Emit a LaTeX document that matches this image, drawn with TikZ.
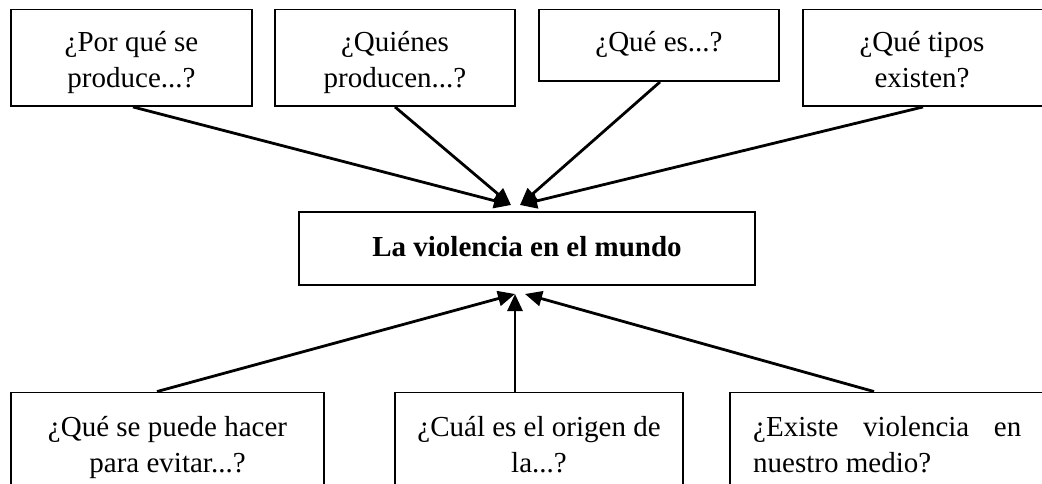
\documentclass[tikz,border=0pt]{standalone}
\usepackage{fontspec}
\setmainfont{Liberation Serif}
\usetikzlibrary{arrows.meta}
\begin{document}
\begin{tikzpicture}[x=1pt,y=-1pt,
  qbox/.style={draw, line width=1.9pt, inner sep=0pt},
  qtext/.style={align=center, inner sep=0pt, font=\fontsize{29}{36}\selectfont},
  link/.style={line width=2.8pt, -{Triangle[length=17pt,width=15pt]}},
]
\useasboundingbox (0,0) rectangle (1042,484);
% top boxes
\node[qbox, minimum width=241pt, minimum height=96.5pt] (b1) at (131.5,57.75) {};
\node[qbox, minimum width=240pt, minimum height=96.5pt] (b2) at (395,57.75) {};
\node[qbox, minimum width=240pt, minimum height=71.5pt] (b3) at (659,45.25) {};
\node[qbox, minimum width=247pt, minimum height=96.5pt] (b4) at (926.5,57.75) {};
\node[qtext, anchor=base] (t1) at (131.5,88) {¿Por qué se\\produce...?};
\node[qtext, anchor=base] (t2) at (395,88) {¿Quiénes\\producen...?};
\node[qtext, anchor=base] (t3) at (659,52) {¿Qué es...?};
\node[qtext, anchor=base] (t4) at (922,88) {¿Qué tipos\\existen?};
% centre
\node[qbox, minimum width=456pt, minimum height=73pt] (c) at (527,248.5) {};
\node[qtext, anchor=base, font=\fontsize{29}{36}\selectfont\bfseries] (tc) at (527,256) {La violencia en el mundo};
% bottom boxes
\node[qbox, minimum width=313pt, minimum height=130pt] (b5) at (167.5,457.5) {};
\node[qbox, minimum width=288pt, minimum height=130pt] (b6) at (539,457.5) {};
\node[qbox, minimum width=320pt, minimum height=130pt] (b7) at (890,457.5) {};
\node[qtext, anchor=base] (t5) at (167.5,472) {¿Qué se puede hacer\\para evitar...?};
\node[qtext, anchor=base] (t6) at (539,472) {¿Cuál es el origen de\\la...?};
\node[qtext, anchor=base west, align=left] (t7) at (753,472) {\makebox[268pt][s]{¿Existe\hfill violencia\hfill en}\\nuestro medio?};
% arrow tips
\coordinate (tl) at (511,205);
\coordinate (tr) at (520,205);
\coordinate (bl) at (515,294);
\coordinate (br) at (525,294);
\draw[link] ([xshift=1.5pt]b1.south) -- (tl);
\draw[link] (b2.south) -- (tl);
\draw[link] ([xshift=1pt]b3.south) -- (tr);
\draw[link] ([xshift=-3.5pt]b4.south) -- (tr);
\draw[link] ([xshift=-10.5pt]b5.north) -- (bl);
\draw[link] (b6.north -| bl) -- (bl);
\draw[link] ([xshift=-16pt]b7.north) -- (br);
\end{tikzpicture}
\end{document}
